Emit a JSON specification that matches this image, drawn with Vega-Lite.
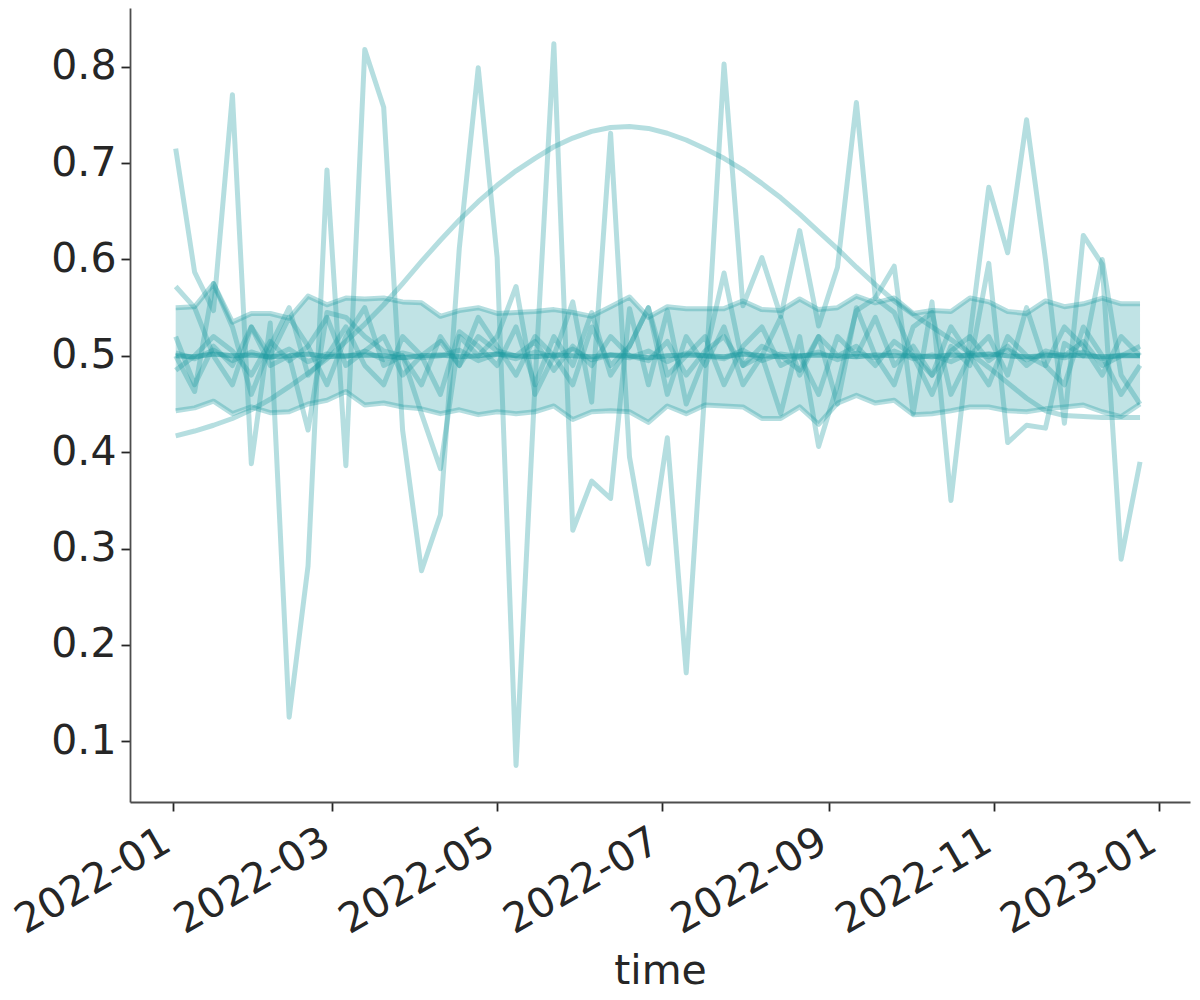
{
  "$schema": "https://vega.github.io/schema/vega-lite/v6.json",
  "width": 1060,
  "height": 794,
  "autosize": {"type": "none"},
  "padding": {"left": 130, "top": 8, "right": 10, "bottom": 198},
  "background": "white",
  "config": {
    "view": {"stroke": null},
    "axis": {
      "grid": false,
      "domainColor": "#4d4d4d",
      "domainWidth": 1.8,
      "tickColor": "#262626",
      "tickWidth": 1.8,
      "tickSize": 9,
      "labelFont": "DejaVu Sans",
      "labelFontSize": 41,
      "labelColor": "#262626",
      "labelOverlap": false,
      "labelFlush": false,
      "titleFont": "DejaVu Sans",
      "titleFontSize": 41,
      "titleFontWeight": "normal",
      "titleColor": "#262626"
    },
    "axisX": {"labelAngle": -30, "labelAlign": "right", "labelBaseline": "top", "labelPadding": 10, "labelOffset": -16, "titlePadding": 10},
    "axisY": {"labelPadding": 5}
  },
  "data": {
    "values": [
      {"t": "2022-01-02", "A": 0.715, "B": 0.572, "C": 0.52, "D": 0.485, "E": 0.50, "S": 0.417, "M": 0.500, "M2": 0.503, "lo": 0.443, "hi": 0.550},
      {"t": "2022-01-09", "A": 0.587, "B": 0.55, "C": 0.47, "D": 0.50, "E": 0.463, "S": 0.422, "M": 0.499, "M2": 0.497, "lo": 0.446, "hi": 0.551},
      {"t": "2022-01-16", "A": 0.547, "B": 0.50, "C": 0.51, "D": 0.52, "E": 0.575, "S": 0.428, "M": 0.502, "M2": 0.506, "lo": 0.453, "hi": 0.575},
      {"t": "2022-01-23", "A": 0.771, "B": 0.47, "C": 0.49, "D": 0.505, "E": 0.53, "S": 0.435, "M": 0.500, "M2": 0.495, "lo": 0.440, "hi": 0.535},
      {"t": "2022-01-30", "A": 0.388, "B": 0.53, "C": 0.53, "D": 0.48, "E": 0.46, "S": 0.444, "M": 0.501, "M2": 0.504, "lo": 0.447, "hi": 0.544},
      {"t": "2022-02-06", "A": 0.534, "B": 0.49, "C": 0.50, "D": 0.515, "E": 0.51, "S": 0.455, "M": 0.499, "M2": 0.498, "lo": 0.441, "hi": 0.544},
      {"t": "2022-02-13", "A": 0.125, "B": 0.50, "C": 0.54, "D": 0.495, "E": 0.55, "S": 0.468, "M": 0.500, "M2": 0.507, "lo": 0.442, "hi": 0.539},
      {"t": "2022-02-20", "A": 0.282, "B": 0.423, "C": 0.51, "D": 0.51, "E": 0.48, "S": 0.482, "M": 0.502, "M2": 0.494, "lo": 0.450, "hi": 0.562},
      {"t": "2022-02-27", "A": 0.693, "B": 0.545, "C": 0.47, "D": 0.54, "E": 0.50, "S": 0.497, "M": 0.499, "M2": 0.502, "lo": 0.454, "hi": 0.553},
      {"t": "2022-03-06", "A": 0.386, "B": 0.54, "C": 0.52, "D": 0.49, "E": 0.53, "S": 0.515, "M": 0.500, "M2": 0.499, "lo": 0.463, "hi": 0.560},
      {"t": "2022-03-13", "A": 0.818, "B": 0.52, "C": 0.55, "D": 0.505, "E": 0.49, "S": 0.533, "M": 0.501, "M2": 0.505, "lo": 0.449, "hi": 0.559},
      {"t": "2022-03-20", "A": 0.758, "B": 0.505, "C": 0.49, "D": 0.52, "E": 0.47, "S": 0.553, "M": 0.500, "M2": 0.496, "lo": 0.451, "hi": 0.560},
      {"t": "2022-03-27", "A": 0.423, "B": 0.50, "C": 0.50, "D": 0.48, "E": 0.52, "S": 0.575, "M": 0.498, "M2": 0.503, "lo": 0.447, "hi": 0.556},
      {"t": "2022-04-03", "A": 0.277, "B": 0.44, "C": 0.47, "D": 0.50, "E": 0.50, "S": 0.598, "M": 0.500, "M2": 0.498, "lo": 0.445, "hi": 0.555},
      {"t": "2022-04-10", "A": 0.335, "B": 0.383, "C": 0.52, "D": 0.515, "E": 0.46, "S": 0.620, "M": 0.501, "M2": 0.500, "lo": 0.440, "hi": 0.541},
      {"t": "2022-04-17", "A": 0.612, "B": 0.52, "C": 0.49, "D": 0.49, "E": 0.525, "S": 0.641, "M": 0.499, "M2": 0.506, "lo": 0.444, "hi": 0.547},
      {"t": "2022-04-24", "A": 0.799, "B": 0.50, "C": 0.54, "D": 0.52, "E": 0.51, "S": 0.660, "M": 0.500, "M2": 0.495, "lo": 0.439, "hi": 0.550},
      {"t": "2022-05-01", "A": 0.602, "B": 0.52, "C": 0.51, "D": 0.505, "E": 0.49, "S": 0.677, "M": 0.502, "M2": 0.502, "lo": 0.442, "hi": 0.544},
      {"t": "2022-05-08", "A": 0.075, "B": 0.572, "C": 0.48, "D": 0.50, "E": 0.53, "S": 0.692, "M": 0.500, "M2": 0.497, "lo": 0.440, "hi": 0.545},
      {"t": "2022-05-15", "A": 0.47, "B": 0.46, "C": 0.52, "D": 0.515, "E": 0.47, "S": 0.705, "M": 0.499, "M2": 0.504, "lo": 0.442, "hi": 0.546},
      {"t": "2022-05-22", "A": 0.824, "B": 0.50, "C": 0.50, "D": 0.485, "E": 0.52, "S": 0.717, "M": 0.501, "M2": 0.499, "lo": 0.448, "hi": 0.548},
      {"t": "2022-05-29", "A": 0.319, "B": 0.556, "C": 0.47, "D": 0.51, "E": 0.49, "S": 0.726, "M": 0.500, "M2": 0.507, "lo": 0.434, "hi": 0.545},
      {"t": "2022-06-05", "A": 0.370, "B": 0.452, "C": 0.53, "D": 0.49, "E": 0.545, "S": 0.733, "M": 0.499, "M2": 0.496, "lo": 0.442, "hi": 0.541},
      {"t": "2022-06-12", "A": 0.352, "B": 0.731, "C": 0.49, "D": 0.52, "E": 0.48, "S": 0.737, "M": 0.501, "M2": 0.501, "lo": 0.443, "hi": 0.551},
      {"t": "2022-06-19", "A": 0.549, "B": 0.395, "C": 0.51, "D": 0.50, "E": 0.51, "S": 0.738, "M": 0.500, "M2": 0.498, "lo": 0.442, "hi": 0.561},
      {"t": "2022-06-26", "A": 0.47, "B": 0.284, "C": 0.55, "D": 0.495, "E": 0.55, "S": 0.736, "M": 0.498, "M2": 0.505, "lo": 0.431, "hi": 0.540},
      {"t": "2022-07-03", "A": 0.547, "B": 0.415, "C": 0.48, "D": 0.515, "E": 0.46, "S": 0.731, "M": 0.500, "M2": 0.494, "lo": 0.448, "hi": 0.551},
      {"t": "2022-07-10", "A": 0.45, "B": 0.171, "C": 0.50, "D": 0.48, "E": 0.52, "S": 0.724, "M": 0.501, "M2": 0.503, "lo": 0.440, "hi": 0.549},
      {"t": "2022-07-17", "A": 0.50, "B": 0.47, "C": 0.52, "D": 0.505, "E": 0.49, "S": 0.715, "M": 0.500, "M2": 0.500, "lo": 0.449, "hi": 0.549},
      {"t": "2022-07-24", "A": 0.586, "B": 0.803, "C": 0.47, "D": 0.52, "E": 0.53, "S": 0.705, "M": 0.499, "M2": 0.497, "lo": 0.448, "hi": 0.549},
      {"t": "2022-07-31", "A": 0.49, "B": 0.552, "C": 0.51, "D": 0.49, "E": 0.47, "S": 0.693, "M": 0.502, "M2": 0.506, "lo": 0.447, "hi": 0.557},
      {"t": "2022-08-07", "A": 0.50, "B": 0.602, "C": 0.53, "D": 0.51, "E": 0.50, "S": 0.679, "M": 0.500, "M2": 0.495, "lo": 0.435, "hi": 0.548},
      {"t": "2022-08-14", "A": 0.44, "B": 0.541, "C": 0.49, "D": 0.50, "E": 0.54, "S": 0.664, "M": 0.499, "M2": 0.502, "lo": 0.435, "hi": 0.547},
      {"t": "2022-08-21", "A": 0.52, "B": 0.630, "C": 0.50, "D": 0.485, "E": 0.48, "S": 0.647, "M": 0.500, "M2": 0.499, "lo": 0.447, "hi": 0.559},
      {"t": "2022-08-28", "A": 0.406, "B": 0.531, "C": 0.46, "D": 0.52, "E": 0.52, "S": 0.629, "M": 0.501, "M2": 0.504, "lo": 0.429, "hi": 0.548},
      {"t": "2022-09-04", "A": 0.47, "B": 0.592, "C": 0.52, "D": 0.50, "E": 0.45, "S": 0.611, "M": 0.500, "M2": 0.496, "lo": 0.451, "hi": 0.550},
      {"t": "2022-09-11", "A": 0.547, "B": 0.763, "C": 0.50, "D": 0.51, "E": 0.55, "S": 0.592, "M": 0.499, "M2": 0.503, "lo": 0.459, "hi": 0.562},
      {"t": "2022-09-18", "A": 0.56, "B": 0.56, "C": 0.54, "D": 0.49, "E": 0.50, "S": 0.574, "M": 0.501, "M2": 0.498, "lo": 0.451, "hi": 0.555},
      {"t": "2022-09-25", "A": 0.593, "B": 0.545, "C": 0.49, "D": 0.515, "E": 0.47, "S": 0.557, "M": 0.500, "M2": 0.505, "lo": 0.454, "hi": 0.560},
      {"t": "2022-10-02", "A": 0.44, "B": 0.50, "C": 0.51, "D": 0.50, "E": 0.53, "S": 0.543, "M": 0.500, "M2": 0.497, "lo": 0.439, "hi": 0.544},
      {"t": "2022-10-09", "A": 0.556, "B": 0.46, "C": 0.48, "D": 0.48, "E": 0.545, "S": 0.530, "M": 0.499, "M2": 0.501, "lo": 0.440, "hi": 0.547},
      {"t": "2022-10-16", "A": 0.35, "B": 0.51, "C": 0.53, "D": 0.505, "E": 0.46, "S": 0.517, "M": 0.501, "M2": 0.494, "lo": 0.443, "hi": 0.546},
      {"t": "2022-10-23", "A": 0.52, "B": 0.49, "C": 0.50, "D": 0.52, "E": 0.50, "S": 0.503, "M": 0.500, "M2": 0.503, "lo": 0.447, "hi": 0.560},
      {"t": "2022-10-30", "A": 0.675, "B": 0.596, "C": 0.47, "D": 0.495, "E": 0.52, "S": 0.488, "M": 0.502, "M2": 0.499, "lo": 0.447, "hi": 0.556},
      {"t": "2022-11-06", "A": 0.607, "B": 0.41, "C": 0.52, "D": 0.51, "E": 0.48, "S": 0.472, "M": 0.500, "M2": 0.506, "lo": 0.443, "hi": 0.546},
      {"t": "2022-11-13", "A": 0.745, "B": 0.428, "C": 0.50, "D": 0.49, "E": 0.55, "S": 0.456, "M": 0.499, "M2": 0.496, "lo": 0.442, "hi": 0.544},
      {"t": "2022-11-20", "A": 0.60, "B": 0.425, "C": 0.49, "D": 0.505, "E": 0.49, "S": 0.443, "M": 0.500, "M2": 0.502, "lo": 0.445, "hi": 0.557},
      {"t": "2022-11-27", "A": 0.43, "B": 0.513, "C": 0.53, "D": 0.50, "E": 0.47, "S": 0.438, "M": 0.501, "M2": 0.498, "lo": 0.447, "hi": 0.551},
      {"t": "2022-12-04", "A": 0.625, "B": 0.50, "C": 0.51, "D": 0.515, "E": 0.53, "S": 0.437, "M": 0.500, "M2": 0.504, "lo": 0.449, "hi": 0.554},
      {"t": "2022-12-11", "A": 0.595, "B": 0.60, "C": 0.48, "D": 0.49, "E": 0.50, "S": 0.436, "M": 0.499, "M2": 0.497, "lo": 0.442, "hi": 0.560},
      {"t": "2022-12-18", "A": 0.289, "B": 0.48, "C": 0.52, "D": 0.50, "E": 0.46, "S": 0.436, "M": 0.500, "M2": 0.501, "lo": 0.437, "hi": 0.554},
      {"t": "2022-12-25", "A": 0.390, "B": 0.45, "C": 0.50, "D": 0.51, "E": 0.49, "S": 0.436, "M": 0.500, "M2": 0.500, "lo": 0.450, "hi": 0.554}
    ]
  },
  "encoding": {
    "x": {
      "field": "t",
      "type": "temporal",
      "title": "time",
      "scale": {
        "type": "utc",
        "domain": [
          {"year": 2021, "month": 12, "date": 16, "hours": 2, "utc": true},
          {"year": 2023, "month": 1, "date": 12, "hours": 12, "utc": true}
        ]
      },
      "axis": {
        "format": "%Y-%m",
        "values": [
          {"year": 2022, "month": 1, "date": 1, "utc": true},
          {"year": 2022, "month": 3, "date": 1, "utc": true},
          {"year": 2022, "month": 5, "date": 1, "utc": true},
          {"year": 2022, "month": 7, "date": 1, "utc": true},
          {"year": 2022, "month": 9, "date": 1, "utc": true},
          {"year": 2022, "month": 11, "date": 1, "utc": true},
          {"year": 2023, "month": 1, "date": 1, "utc": true}
        ]
      }
    }
  },
  "layer": [
    {
      "mark": {"type": "area", "color": "#1d9ba1", "opacity": 0.28},
      "encoding": {
        "y": {"field": "lo", "type": "quantitative", "title": null,
              "scale": {"domain": [0.037, 0.861], "zero": false, "nice": false},
              "axis": {"values": [0.1, 0.2, 0.3, 0.4, 0.5, 0.6, 0.7, 0.8], "format": ".1f"}},
        "y2": {"field": "hi"}
      }
    },
    {
      "mark": {"type": "line", "color": "#1d9ba1", "opacity": 0.33, "strokeWidth": 5, "strokeJoin": "round"},
      "encoding": {"y": {"field": "lo", "type": "quantitative", "title": null}}
    },
    {
      "mark": {"type": "line", "color": "#1d9ba1", "opacity": 0.33, "strokeWidth": 5, "strokeJoin": "round"},
      "encoding": {"y": {"field": "hi", "type": "quantitative", "title": null}}
    },
    {
      "transform": [{"fold": ["S", "C", "D", "E", "M2", "B", "A"], "as": ["series", "value"]}],
      "mark": {"type": "line", "color": "#1d9ba1", "opacity": 0.33, "strokeWidth": 5, "strokeJoin": "round"},
      "encoding": {
        "y": {"field": "value", "type": "quantitative", "title": null},
        "detail": {"field": "series", "type": "nominal"}
      }
    },
    {
      "mark": {"type": "line", "color": "#1d9ba1", "opacity": 0.55, "strokeWidth": 5, "strokeJoin": "round"},
      "encoding": {"y": {"field": "M", "type": "quantitative", "title": null}}
    }
  ]
}
